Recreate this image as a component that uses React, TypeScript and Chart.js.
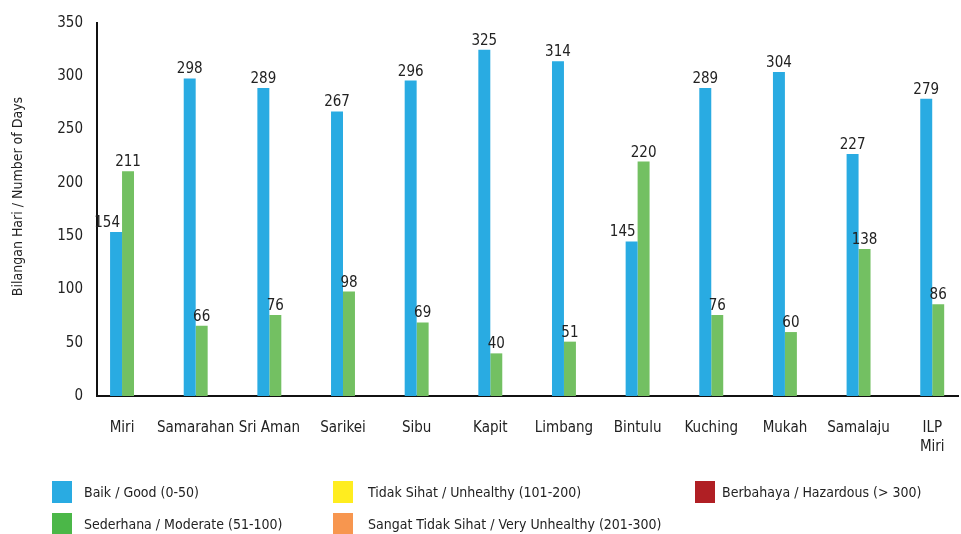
import React, { useEffect, useRef } from 'react';
import { Chart, registerables } from 'chart.js';

Chart.register(...registerables);

const FONT = '"DejaVu Sans Condensed", "DejaVu Sans", sans-serif';

const categories: (string | string[])[] = [
  'Miri', 'Samarahan', 'Sri Aman', 'Sarikei', 'Sibu', 'Kapit', 'Limbang',
  'Bintulu', 'Kuching', 'Mukah', 'Samalaju', ['ILP', 'Miri'],
];
const goodDays = [154, 298, 289, 267, 296, 325, 314, 145, 289, 304, 227, 279];
const moderateDays = [211, 66, 76, 98, 69, 40, 51, 220, 76, 60, 138, 86];
const unhealthyDays = [0, 0, 0, 0, 0, 0, 0, 0, 0, 0, 0, 0];
const veryUnhealthyDays = [0, 0, 0, 0, 0, 0, 0, 0, 0, 0, 0, 0];
const hazardousDays = [0, 0, 0, 0, 0, 0, 0, 0, 0, 0, 0, 0];

const seriesLabels = [
  'Baik / Good (0-50)',
  'Sederhana / Moderate (51-100)',
  'Tidak Sihat / Unhealthy (101-200)',
  'Sangat Tidak Sihat / Very Unhealthy (201-300)',
  'Berbahaya / Hazardous (> 300)',
];
const barColors = ['#29ABE2', '#73C062', '#FFED1F', '#F7964F', '#B01F24'];
const legendColors = ['#29ABE2', '#4BB748', '#FFED1F', '#F7964F', '#B01F24'];
const yTicks = [0, 50, 100, 150, 200, 250, 300, 350];
const yTitle = 'Bilangan Hari / Number of Days';

// legend grid placement (column-major), layout only
const legendSlots = [
  { box: 52, text: 84, top: 481 },
  { box: 52, text: 84, top: 513 },
  { box: 333, text: 368, top: 481 },
  { box: 333, text: 368, top: 513 },
  { box: 695, text: 722, top: 481 },
];

const valueLabels = {
  id: 'valueLabels',
  afterDatasetsDraw(chart: any) {
    const ctx = chart.ctx;
    ctx.save();
    ctx.font = `15px ${FONT}`;
    ctx.fillStyle = '#222';
    ctx.textBaseline = 'alphabetic';
    const n = chart.data.datasets.length;
    chart.data.datasets.forEach((ds: any, di: number) => {
      if (!chart.isDatasetVisible(di)) return;
      const meta = chart.getDatasetMeta(di);
      meta.data.forEach((bar: any, i: number) => {
        const v = ds.data[i].y;
        if (!v) return;
        const { x, y, width } = bar.getProps(['x', 'y', 'width'], true);
        let tx = x;
        let align: CanvasTextAlign = 'center';
        if (di + 1 < n && chart.isDatasetVisible(di + 1)) {
          const nb = chart.getDatasetMeta(di + 1).data[i];
          if (nb && nb.y < y - 4) {
            align = 'right';
            tx = x + width / 2 - 2;
          }
        }
        ctx.textAlign = align;
        ctx.fillText(String(v), tx, y - 5);
      });
    });
    ctx.restore();
  },
};

const yAxisTitle = {
  id: 'yAxisTitle',
  afterDraw(chart: any) {
    const { ctx, chartArea } = chart;
    ctx.save();
    ctx.font = `14px ${FONT}`;
    ctx.fillStyle = '#222';
    ctx.textAlign = 'center';
    ctx.textBaseline = 'middle';
    ctx.translate(18, (chartArea.top + chartArea.bottom) / 2 - 13);
    ctx.rotate(-Math.PI / 2);
    ctx.fillText(yTitle, 0, 0);
    ctx.restore();
  },
};

export default function App() {
  const ref = useRef<HTMLCanvasElement>(null);

  useEffect(() => {
    document.body.style.margin = '0';
    Chart.defaults.font.family = FONT;
    const series = [goodDays, moderateDays, unhealthyDays, veryUnhealthyDays, hazardousDays];
    const chart = new Chart(ref.current!, {
      type: 'bar',
      data: {
        datasets: series.map((arr, k) => ({
          label: seriesLabels[k],
          data: arr.map((v, i) => ({ x: i, y: v })),
          backgroundColor: barColors[k],
          borderWidth: 0,
          hidden: k > 1,
          barPercentage: 1,
          categoryPercentage: 0.325,
        })),
      },
      options: {
        responsive: false,
        animation: false,
        layout: { padding: { top: 20, right: 3, left: 0, bottom: 0 } },
        plugins: { legend: { display: false }, tooltip: { enabled: false } },
        scales: {
          x: {
            type: 'linear',
            min: -0.34,
            max: 11.35,
            offset: false,
            grid: { display: false, drawTicks: false },
            border: { display: true, color: '#111', width: 2 },
            afterBuildTicks: (s: any) => {
              s.ticks = categories.map((_, i) => ({ value: i }));
            },
            afterFit: (s: any) => {
              s.height = 138;
              s.paddingLeft = 0;
              s.paddingRight = 0;
            },
            ticks: {
              autoSkip: false,
              maxRotation: 0,
              padding: 23,
              color: '#222',
              font: { size: 15, lineHeight: 1.25 },
              callback: (v: any) => categories[v as number] as any,
            },
          },
          y: {
            min: 0,
            max: 350,
            grid: { display: false, drawTicks: false },
            border: { display: true, color: '#111', width: 2 },
            afterBuildTicks: (s: any) => {
              s.ticks = yTicks.map((v) => ({ value: v }));
            },
            afterFit: (s: any) => {
              s.width = 97;
            },
            ticks: { padding: 14, color: '#222', font: { size: 15 } },
          },
        },
      },
      plugins: [valueLabels, yAxisTitle],
    });
    return () => chart.destroy();
  }, []);

  return (
    <div style={{ position: 'relative', width: 961, height: 534, overflow: 'hidden', background: '#fff' }}>
      <canvas ref={ref} width={961} height={534} style={{ position: 'absolute', left: 0, top: 0, width: 961, height: 534 }} />
      {seriesLabels.map((label, k) => (
        <React.Fragment key={label}>
          <div
            style={{
              position: 'absolute',
              left: legendSlots[k].box,
              top: legendSlots[k].top,
              width: 20,
              height: 22,
              background: legendColors[k],
            }}
          />
          <div
            style={{
              position: 'absolute',
              left: legendSlots[k].text,
              top: legendSlots[k].top,
              height: 22,
              lineHeight: '22px',
              fontFamily: FONT,
              fontSize: 14,
              color: '#222',
              whiteSpace: 'nowrap',
            }}
          >
            {label}
          </div>
        </React.Fragment>
      ))}
    </div>
  );
}
